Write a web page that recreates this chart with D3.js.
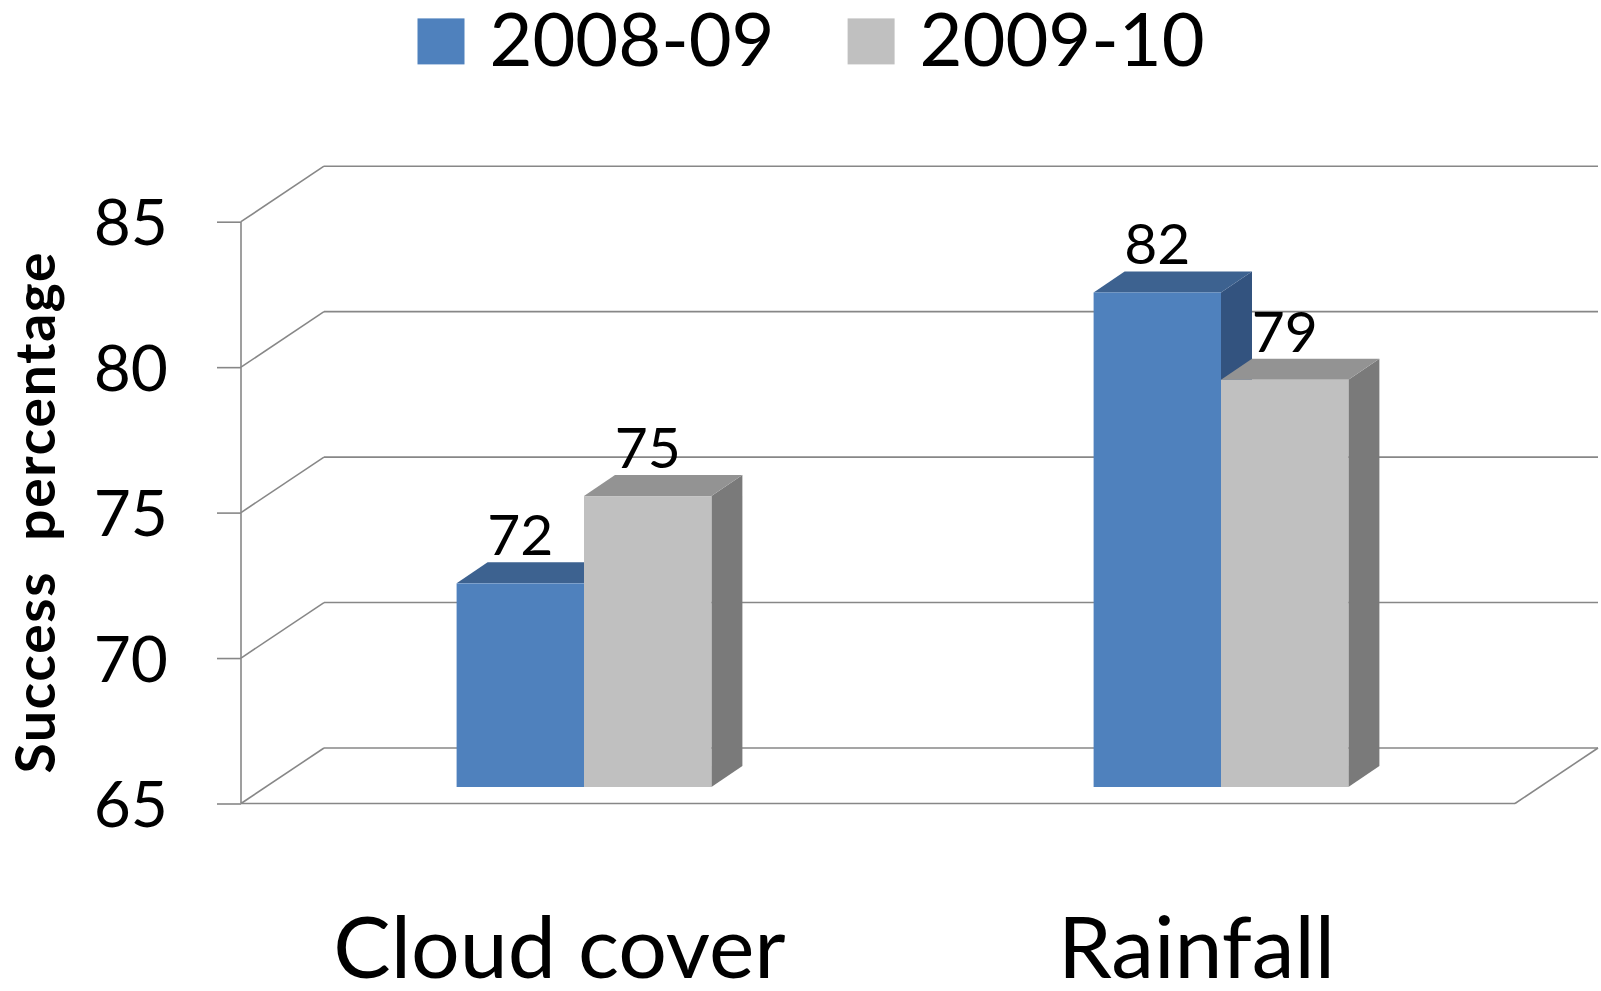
<!DOCTYPE html>
<html>
<head>
<meta charset="utf-8">
<script src="https://cdn.jsdelivr.net/npm/d3@7"></script>
<style>
  html, body { margin: 0; padding: 0; background: #ffffff; }
  svg { display: block; }
  text { font-family: Lato, "Noto Sans", sans-serif; fill: #000; }
</style>
</head>
<body>
<svg id="chart" width="1601" height="991"></svg>
<script>
// ---- data ----
const categories = ["Cloud cover", "Rainfall"];
const seriesNames = ["2008-09", "2009-10"];
const values2008 = [72, 82];
const values2009 = [75, 79];
const yTicks = [65, 70, 75, 80, 85];
const seriesColors = ["#4F81BD", "#C0C0C0"];
const seriesTopColors = ["#3D6290", "#939393"];
const seriesSideColors = ["#33537F", "#7A7A7A"];
const yTitle = "Success  percentage";

// ---- layout ----
const svg = d3.select("#chart");
const frontLeft = 241, frontRight = 1515;
const yBottom = 803.5, yTop = 221.7;
const DX = 83, DY = -55.5;          // wall depth offset
const barDX = 24.5, barDY = -16.5;  // front plane of bars
const depthDX = 31, depthDY = -21;  // bar depth
const gridColor = "#878787";

const x0 = d3.scaleBand().domain(categories).range([frontLeft, frontRight]).padding(0);
const x1 = d3.scaleBand().domain(seriesNames)
  .range([x0.bandwidth() * 0.3, x0.bandwidth() * 0.7]).padding(0);
const y = d3.scaleLinear().domain([65, 85]).range([yBottom, yTop]);

const grid = svg.append("g").attr("stroke", gridColor).attr("stroke-width", 1.6).attr("fill", "none");
yTicks.forEach(t => {
  const yy = y(t);
  grid.append("line").attr("x1", frontLeft + DX).attr("y1", yy + DY)
    .attr("x2", frontRight + DX).attr("y2", yy + DY);
  grid.append("line").attr("x1", frontLeft).attr("y1", yy)
    .attr("x2", frontLeft + DX).attr("y2", yy + DY);
});
grid.append("line").attr("x1", frontLeft).attr("y1", yBottom).attr("x2", frontRight).attr("y2", yBottom);
grid.append("line").attr("x1", frontRight).attr("y1", yBottom).attr("x2", frontRight + DX).attr("y2", yBottom + DY);

// y axis
const yAxis = d3.axisLeft(y).tickValues(yTicks).tickSize(24).tickPadding(49).tickFormat(d3.format("d"));
const ax = svg.append("g").attr("transform", `translate(${frontLeft},0)`).call(yAxis);
ax.select(".domain").attr("stroke", gridColor).attr("stroke-width", 1.6).attr("d", `M0,${yTop}V${yBottom}`);
ax.selectAll(".tick line").attr("stroke", gridColor).attr("stroke-width", 1.6);
ax.selectAll(".tick text").attr("font-family", "Lato").attr("font-size", 64).attr("dy", "0.36em").attr("fill", "#000");

// bars
const seriesValues = [values2008, values2009];
const bars = svg.append("g");
categories.forEach((cat, ci) => {
  seriesNames.forEach((s, si) => {
    const v = seriesValues[si][ci];
    const x = x0(cat) + x1(s) + barDX;
    const w = x1.bandwidth();
    const yt = y(v) + barDY;
    const yb = y(65) + barDY;
    const pts = a => a.map(p => p.join(",")).join(" ");
    bars.append("polygon").attr("fill", seriesSideColors[si])
      .attr("points", pts([[x + w, yt], [x + w + depthDX, yt + depthDY], [x + w + depthDX, yb + depthDY], [x + w, yb]]));
    bars.append("polygon").attr("fill", seriesTopColors[si])
      .attr("points", pts([[x, yt], [x + depthDX, yt + depthDY], [x + w + depthDX, yt + depthDY], [x + w, yt]]));
    bars.append("rect").attr("x", x).attr("y", yt).attr("width", w).attr("height", yb - yt)
      .attr("fill", seriesColors[si]);
  });
});

// data labels
const labels = svg.append("g");
categories.forEach((cat, ci) => {
  seriesNames.forEach((s, si) => {
    const v = seriesValues[si][ci];
    const x = x0(cat) + x1(s) + barDX + x1.bandwidth() / 2;
    labels.append("text").attr("x", x).attr("y", y(v) + barDY + depthDY - 7)
      .attr("text-anchor", "middle").attr("font-size", 57).text(v);
  });
});

// category labels
svg.append("g").selectAll("text").data(categories).join("text")
  .attr("x", d => x0(d) + x0.bandwidth() / 2).attr("y", 978)
  .attr("text-anchor", "middle").attr("font-size", 86).text(d => d);

// y title
svg.append("text").attr("transform", "translate(55,513) rotate(-90)")
  .attr("text-anchor", "middle").attr("font-size", 55).attr("font-weight", "bold")
  .attr("textLength", 521).attr("lengthAdjust", "spacing")
  .style("white-space", "pre").text(yTitle);

// legend
const legendX = [417.5, 847.6];
const legend = svg.append("g");
seriesNames.forEach((s, i) => {
  legend.append("rect").attr("x", legendX[i]).attr("y", 18.4).attr("width", 47).attr("height", 46)
    .attr("fill", seriesColors[i]);
  legend.append("text").attr("x", legendX[i] + 72).attr("y", 66)
    .attr("font-size", 74).text(s);
});
</script>
</body>
</html>
